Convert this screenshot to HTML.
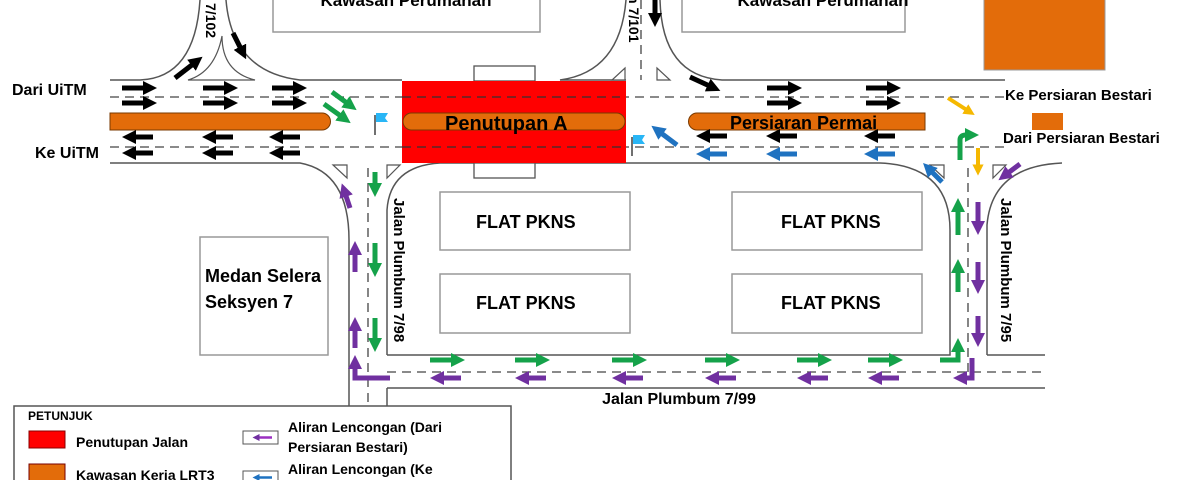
<!DOCTYPE html>
<html><head><meta charset="utf-8"><style>
html,body{margin:0;padding:0;background:#fff;}
svg{display:block;font-family:"Liberation Sans",Arial,sans-serif;}
</style></head><body>
<svg width="1200" height="480" viewBox="0 0 1200 480" xmlns="http://www.w3.org/2000/svg">
<defs>
<marker id="mk" viewBox="0 0 10 10" refX="5" refY="5" markerWidth="2.8" markerHeight="2.8" orient="auto"><path d="M0,0 L10,5 L0,10 z" fill="#000"/></marker>
<marker id="mg" viewBox="0 0 10 10" refX="5" refY="5" markerWidth="2.8" markerHeight="2.8" orient="auto"><path d="M0,0 L10,5 L0,10 z" fill="#15a24a"/></marker>
<marker id="mp" viewBox="0 0 10 10" refX="5" refY="5" markerWidth="2.8" markerHeight="2.8" orient="auto"><path d="M0,0 L10,5 L0,10 z" fill="#7030a0"/></marker>
<marker id="mb" viewBox="0 0 10 10" refX="5" refY="5" markerWidth="2.8" markerHeight="2.8" orient="auto"><path d="M0,0 L10,5 L0,10 z" fill="#1f72c0"/></marker>
<marker id="my" viewBox="0 0 10 10" refX="5" refY="5" markerWidth="2.8" markerHeight="2.8" orient="auto"><path d="M0,0 L10,5 L0,10 z" fill="#f5b800"/></marker>
</defs>

<rect x="273" y="-5" width="267" height="37" fill="#fff" stroke="#999" stroke-width="1.5"/>
<rect x="682" y="-5" width="223" height="37" fill="#fff" stroke="#999" stroke-width="1.5"/>
<text x="406" y="6" font-size="17" font-weight="bold" text-anchor="middle">Kawasan Perumahan</text>
<text x="823" y="6" font-size="17" font-weight="bold" text-anchor="middle">Kawasan Perumahan</text>
<rect x="984" y="-2" width="121" height="72" fill="#e36c0a" stroke="#999"/>

<g fill="#fff" stroke="#999" stroke-width="1.5">
<rect x="440" y="192" width="190" height="58"/>
<rect x="440" y="274" width="190" height="59"/>
<rect x="732" y="192" width="190" height="58"/>
<rect x="732" y="274" width="190" height="59"/>
<rect x="200" y="237" width="128" height="118"/>
</g>
<g font-size="18" font-weight="bold">
<text x="476" y="228">FLAT PKNS</text><text x="476" y="309">FLAT PKNS</text>
<text x="781" y="228">FLAT PKNS</text><text x="781" y="309">FLAT PKNS</text>
<text x="205" y="282">Medan Selera</text>
<text x="205" y="308">Seksyen 7</text>
</g>

<g fill="none" stroke="#555" stroke-width="1.5">
<path d="M110,80 L140,80 Q195,78 200,0"/>
<path d="M226,0 Q232,72 300,80 L402,80"/>
<path d="M626,80 L560,80 Q620,72 626,0"/>
<path d="M660,0 Q662,76 722,80 L1005,80"/>
<path d="M110,163 L300,163 Q349,172 349,240 L349,480"/>
<path d="M387,355 L387,210 Q390,166 440,163 L626,163"/>
<path d="M626,163 L880,163 Q950,166 950,230 L950,355 L387,355"/>
<path d="M387,388 L1045,388"/>
<path d="M987,355 L987,225 Q992,166 1062,163"/>
<path d="M987,355 L1045,355"/>
<path d="M387,388 L387,480"/>
</g>
<g fill="none" stroke="#444" stroke-width="1.3" stroke-dasharray="9,6">
<path d="M110,97 L1005,97"/>
<path d="M110,147 L1005,147"/>
<path d="M641,0 L641,80"/>
<path d="M368,168 L368,480"/>
<path d="M968,168 L968,372"/>
<path d="M387,372 L1045,372"/>
</g>
<g fill="#fff" stroke="#555" stroke-width="1.2">
<path d="M188,80 L255,80 Q222,72 222,36 Q215,72 188,80z"/>
<path d="M612,80 L625,80 L625,68z"/><path d="M657,68 L657,80 L670,80z"/>
<path d="M333,165 L347,165 L347,178z"/><path d="M387,178 L387,165 L400,165z"/>
<path d="M930,165 L944,165 L944,178z"/><path d="M993,178 L993,165 L1006,165z"/>
</g>

<rect x="474" y="66" width="61" height="15" fill="#fff" stroke="#555" stroke-width="1.3"/>
<rect x="474" y="163" width="61" height="15" fill="#fff" stroke="#555" stroke-width="1.3"/>
<rect x="402" y="81" width="224" height="82" fill="#ff0000"/>
<g stroke="#333" stroke-width="1.2" stroke-dasharray="9,6"><path d="M402,97 L620,97"/><path d="M402,147 L626,147"/></g>

<g fill="#e36c0a" stroke="#7a3a00" stroke-width="1">
<path d="M110,113 L322,113 A8.5,8.5 0 0 1 322,130 L110,130z"/>
<rect x="403" y="113" width="222" height="17" rx="8.5"/>
<path d="M697,113 L925,113 L925,130 L697,130 A8.5,8.5 0 0 1 697,113z"/>
</g>
<rect x="1032" y="113" width="31" height="17" fill="#e36c0a"/>
<text x="445" y="130" font-size="20" font-weight="bold">Penutupan A</text>
<text x="730" y="129" font-size="18" font-weight="bold">Persiaran Permai</text>

<g><path d="M375,115 L375,135" stroke="#222" stroke-width="1.3"/><path d="M376,113 L388,113 L385,118 L388,122 L376,122z" fill="#29b6f6"/></g>
<g><path d="M632,137 L632,156" stroke="#222" stroke-width="1.3"/><path d="M633,135 L645,135 L642,140 L645,144 L633,144z" fill="#29b6f6"/></g>

<g stroke="#000" stroke-width="5" marker-end="url(#mk)" fill="none">
<path d="M122,88 L150,88"/><path d="M122,103 L150,103"/>
<path d="M203,88 L231,88"/><path d="M203,103 L231,103"/>
<path d="M272,88 L300,88"/><path d="M272,103 L300,103"/>
<path d="M767,88 L795,88"/><path d="M767,103 L795,103"/>
<path d="M866,88 L894,88"/><path d="M866,103 L894,103"/>
<path d="M153,137 L129,137"/><path d="M153,153 L129,153"/>
<path d="M233,137 L209,137"/><path d="M233,153 L209,153"/>
<path d="M300,137 L276,137"/><path d="M300,153 L276,153"/>
<path d="M727,136 L703,136"/><path d="M797,136 L773,136"/><path d="M895,136 L871,136"/>
<path d="M175,78 L197,61"/><path d="M233,33 L243,53"/>
<path d="M655,0 L655,20"/><path d="M690,77 L714,88"/>
</g>
<g stroke="#1f72c0" stroke-width="5" marker-end="url(#mb)" fill="none">
<path d="M727,154 L703,154"/><path d="M797,154 L773,154"/><path d="M895,154 L871,154"/>
<path d="M677,145 L657,130"/><path d="M942,182 L928,168"/>
</g>
<g stroke="#15a24a" stroke-width="5" marker-end="url(#mg)" fill="none">
<path d="M332,92 L351,106"/><path d="M324,104 L345,119"/>
<path d="M375,172 L375,190"/><path d="M375,243 L375,270"/><path d="M375,318 L375,345"/>
<path d="M430,360 L458,360"/><path d="M515,360 L543,360"/><path d="M612,360 L640,360"/>
<path d="M705,360 L733,360"/><path d="M797,360 L825,360"/><path d="M868,360 L896,360"/>
<path d="M940,360 L958,360 L958,345"/>
<path d="M958,235 L958,205"/><path d="M958,292 L958,266"/>
<path d="M960,160 L960,140 Q960,135 966,135 L972,135"/>
</g>
<g stroke="#7030a0" stroke-width="5" marker-end="url(#mp)" fill="none">
<path d="M355,272 L355,248"/><path d="M355,348 L355,324"/><path d="M350,208 L344,190"/>
<path d="M390,378 L355,378 L355,362"/>
<path d="M461,378 L437,378"/><path d="M546,378 L522,378"/><path d="M643,378 L619,378"/>
<path d="M736,378 L712,378"/><path d="M828,378 L804,378"/><path d="M899,378 L875,378"/>
<path d="M978,202 L978,228"/><path d="M978,262 L978,287"/><path d="M978,316 L978,340"/>
<path d="M972,358 L972,378 L960,378"/>
<path d="M1020,164 L1004,176"/>
</g>
<g stroke="#f5b800" stroke-width="4" marker-end="url(#my)" fill="none">
<path d="M948,98 L970,112"/><path d="M978,148 L978,170"/>
</g>

<g font-size="16" font-weight="bold">
<text x="12" y="95">Dari UiTM</text>
<text x="35" y="158">Ke UiTM</text>
<text x="1005" y="100" font-size="15">Ke Persiaran Bestari</text>
<text x="1003" y="143" font-size="15">Dari Persiaran Bestari</text>
<text x="679" y="404" text-anchor="middle">Jalan Plumbum 7/99</text>
<text transform="translate(206,3) rotate(90)" font-size="14">7/102</text>
<text transform="translate(629,-5) rotate(90)" font-size="14">n 7/101</text>
<text transform="translate(394,198) rotate(90)" font-size="15">Jalan Plumbum 7/98</text>
<text transform="translate(1001,198) rotate(90)" font-size="15">Jalan Plumbum 7/95</text>
</g>

<rect x="14" y="406" width="497" height="80" fill="#fff" stroke="#555" stroke-width="1.5"/>
<g font-weight="bold">
<text x="28" y="420" font-size="12">PETUNJUK</text>
<rect x="29" y="431" width="36" height="17" fill="#ff0000" stroke="#800"/>
<text x="76" y="447" font-size="14">Penutupan Jalan</text>
<rect x="29" y="464" width="36" height="20" fill="#e36c0a" stroke="#700"/>
<text x="76" y="480" font-size="14">Kawasan Keria LRT3</text>
<rect x="243" y="431" width="35" height="13" fill="#fff" stroke="#555"/>
<path d="M272,437.5 L256,437.5" stroke="#9b2fc0" stroke-width="2.5" marker-end="url(#mp)"/>
<text x="288" y="432" font-size="14">Aliran Lencongan (Dari</text>
<text x="288" y="452" font-size="14">Persiaran Bestari)</text>
<rect x="243" y="471" width="35" height="13" fill="#fff" stroke="#555"/>
<path d="M272,477.5 L256,477.5" stroke="#1f72c0" stroke-width="2.5" marker-end="url(#mb)"/>
<text x="288" y="474" font-size="14">Aliran Lencongan (Ke</text>
</g>
</svg>
</body></html>
